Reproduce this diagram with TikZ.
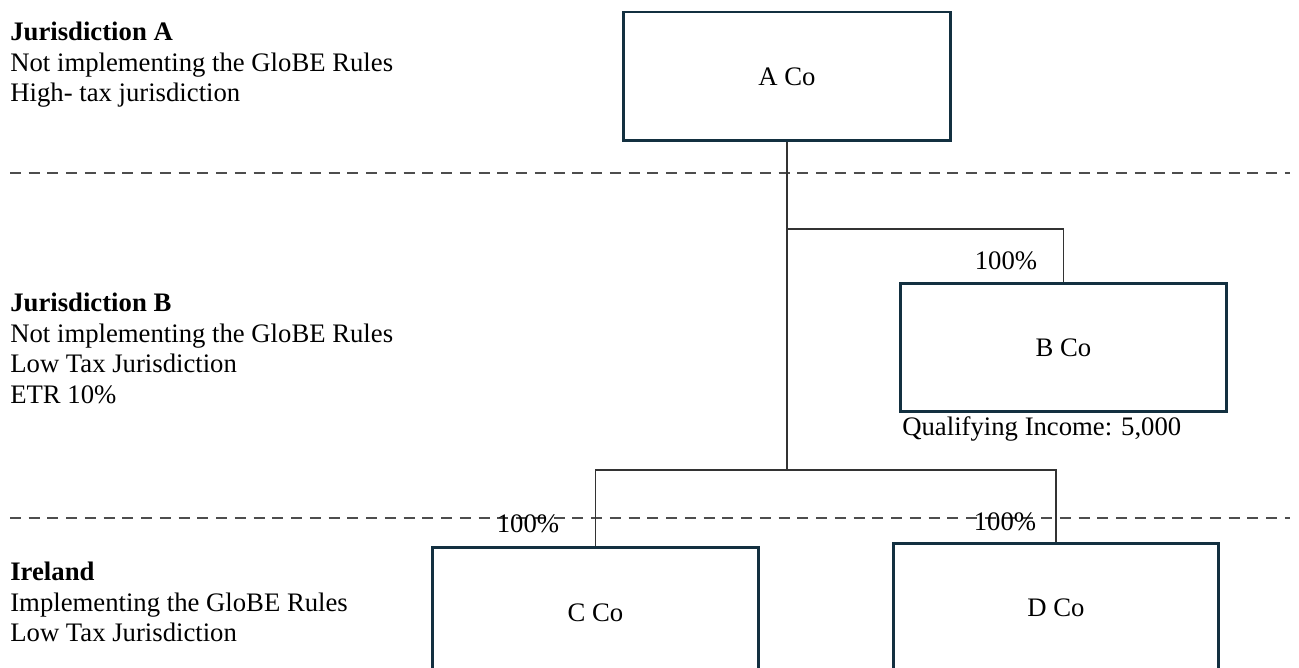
\documentclass[tikz,border=0pt]{standalone}
\usepackage{fontspec}
\setmainfont{Liberation Serif}
\usetikzlibrary{positioning}

\definecolor{boxline}{HTML}{133040}
\definecolor{linkline}{HTML}{333333}
\definecolor{bandline}{HTML}{4D4D4D}

\tikzset{
    entity/.style   = {draw=boxline, line width=1.7pt, fill=white, inner sep=0pt},
    link/.style     = {draw=linkline, line width=0.6pt},
    band/.style     = {draw=bandline, line width=1pt, dash pattern=on 0.22cm off 0.155cm},
    share/.style    = {inner sep=0pt},
    jtext/.style    = {align=left, anchor=north west, inner sep=0pt},
}

\begin{document}
\begin{tikzpicture}[x=0.02cm, y=-0.02cm, font=\fontsize{15.2pt}{17.3pt}\selectfont]
            \useasboundingbox (0,0) rectangle (1299,668);                             % page size
            \clip (0,0) rectangle (1299,668);                                          % cut lower boxes

            \draw       [band]                  (10,173) -- (1290,173);                  % A / B border
            \draw       [band]                  (10,518) -- (1290,518);                  % B / Ireland border

            \node       [jtext] (jurA)  at (10,22)  {\textbf{Jurisdiction A}\\Not implementing the GloBE Rules\\High- tax jurisdiction};
            \node       [jtext] (jurB)  at (10,293) {\textbf{Jurisdiction B}\\Not implementing the GloBE Rules\\Low Tax Jurisdiction\\ETR 10\%};
            \node       [jtext] (jurIE) at (10,562) {\textbf{Ireland}\\Implementing the GloBE Rules\\Low Tax Jurisdiction};

            \node       [entity, minimum width=6.56cm, minimum height=2.58cm] (aco) at (787,76.5)   {A Co};
            \node       [entity, minimum width=6.54cm, minimum height=2.58cm] (bco) at (1063.5,347.5) {B Co};
            \node       [entity, minimum width=6.54cm, minimum height=2.64cm] (cco) at (595.5,613)  {C Co};
            \node       [entity, minimum width=6.52cm, minimum height=2.60cm] (dco) at (1056,608)   {D Co};

            \coordinate (splitB)  at (787,229);                                         % branch to B Co
            \coordinate (splitCD) at (787,470);                                         % branch to C Co / D Co

            \draw       [link]                  (aco.south) -- (splitCD);               % trunk
            \draw       [link]                  (splitB) -| (bco.north);                % to B Co
            \draw       [link]                  (splitCD) -| (cco.north);               % to C Co
            \draw       [link]                  (splitCD) -| (dco.north);               % to D Co

            \node       [share] (pctB) at (1006,261) {100\%};
            \node       [share] (pctC) at (528,524)  {100\%};
            \node       [share] (pctD) at (1005,522) {100\%};
            \node       [share, anchor=base west] (qinc) at (902,436) {Qualifying Income: 5,000};
        \end{tikzpicture}
\end{document}
